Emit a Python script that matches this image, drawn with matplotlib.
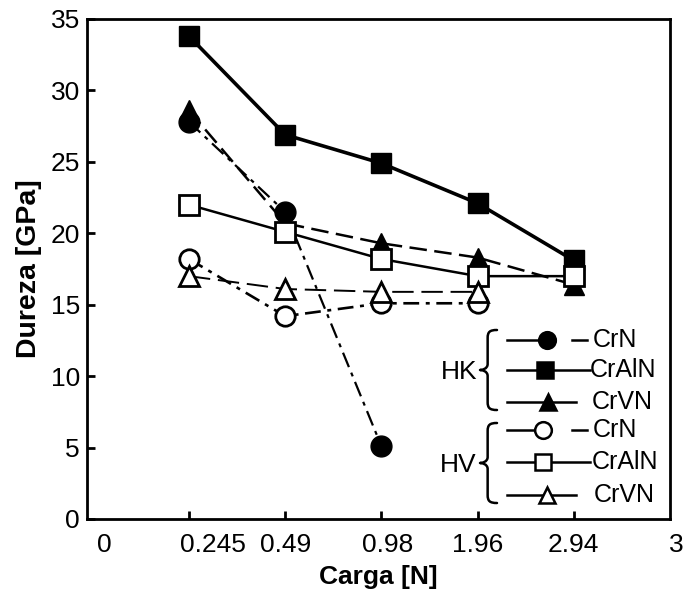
import matplotlib
matplotlib.use("Agg")
import matplotlib.pyplot as plt
from matplotlib.lines import Line2D
from matplotlib.path import Path
from matplotlib.patches import PathPatch
import matplotlib.transforms as mtrans

plt.rcParams['font.family'] = ['Liberation Sans', 'DejaVu Sans']

x_labels = ["0", "0.245", "0.49", "0.98", "1.96", "2.94", "3"]
x_pos = [1, 2, 3, 4, 5]

hk_crn = [27.8, 21.5, 5.1]
hk_cralN = [33.8, 26.9, 24.9, 22.1, 18.1]
hk_crvn = [28.6, 20.7, 19.3, 18.3, 16.4]
hv_crn = [18.2, 14.2, 15.1, 15.1]
hv_cralN = [22.0, 20.1, 18.2, 17.0, 17.0]
hv_crvn = [17.0, 16.1, 15.9, 15.9]

W, H = 688, 594
fig = plt.figure(figsize=(W / 100, H / 100), dpi=100)
L, R, T, B = 87, 670, 19, 519
ax = fig.add_axes([L / W, (H - B) / H, (R - L) / W, (B - T) / H])

dd_hk = (0, (7, 2.7, 1.8, 2.7))
dd_hv = (0, (6, 2.5, 1.5, 2.5))
dash_hk = (0, (7, 3))
dash_hv = (0, (11, 4))

ax.plot(x_pos[:len(hk_crn)], hk_crn, color='black', lw=1.6, linestyle=dd_hk,
        marker='o', markersize=15, markerfacecolor='black', zorder=3)
ax.plot(x_pos, hk_cralN, color='black', lw=2.6, linestyle='-',
        marker='s', markersize=14, markerfacecolor='black', zorder=3)
ax.plot(x_pos, hk_crvn, color='black', lw=1.8, linestyle=dash_hk,
        marker='^', markersize=15, markerfacecolor='black', zorder=3)
ax.plot(x_pos[:len(hv_crn)], hv_crn, color='black', lw=1.9, linestyle=dd_hv,
        marker='o', markersize=14, markerfacecolor='white', markeredgewidth=2, zorder=4)
ax.plot(x_pos, hv_cralN, color='black', lw=1.8, linestyle='-',
        marker='s', markersize=14, markerfacecolor='white', markeredgewidth=2, zorder=4)
ax.plot(x_pos[:len(hv_crvn)], hv_crvn, color='black', lw=1.4, linestyle=dash_hv,
        marker='^', markersize=15, markerfacecolor='white', markeredgewidth=2, zorder=4)

ax.set_xlim(-0.06, 6)
ax.set_ylim(0, 35)
ax.set_xticks(range(7))
ax.set_xticklabels(x_labels)
ax.set_yticks(range(0, 36, 5))
ax.tick_params(direction='in', length=6, width=2, labelsize=19)
ax.tick_params(axis='x', pad=10)
ax.tick_params(axis='y', pad=5)
for s in ax.spines.values():
    s.set_linewidth(2)
xt = ax.xaxis.get_major_ticks()
for i in (0, 6):
    xt[i].tick1line.set_visible(False)
# shift some x tick labels as in the reference
shifts = {0: 12, 1: 24, 3: 6, 6: 6}
for i, lbl in enumerate(ax.get_xticklabels()):
    if i in shifts:
        lbl.set_transform(lbl.get_transform() +
                          mtrans.ScaledTranslation(shifts[i] / 100, 0, fig.dpi_scale_trans))
ax.set_xlabel("Carga [N]", fontsize=19, fontweight='bold', labelpad=6)
ax.set_ylabel("Dureza [GPa]", fontsize=20.5, fontweight='bold', labelpad=6)


def fp(x, y):
    return (x / W, (H - y) / H)


ft = fig.transFigure
rows = [
    (340, 'o', 'black', 'dd', "CrN", 547, 593),
    (370, 's', 'black', '-', "CrAlN", 545, 590),
    (402, '^', 'black', 'dash', "CrVN", 548, 592),
    (430, 'o', 'white', 'dd', "CrN", 543, 593),
    (462, 's', 'white', '-', "CrAlN", 543, 592),
    (495, '^', 'white', 'dash', "CrVN", 547, 594),
]
for y, m, fc, ls, lab, xm, xtx in rows:
    def seg(xa, xb):
        (a, yy), (b, _) = fp(xa, y), fp(xb, y)
        fig.add_artist(Line2D([a, b], [yy, yy], transform=ft, color='black', lw=1.8))
    if ls == 'dd':
        seg(507, xm)
        seg(572, 587)
    elif ls == 'dash':
        seg(507, 576)
    else:
        seg(507, 590)
    a, yy = fp(xm, y)
    fig.add_artist(Line2D([a], [yy], transform=ft, marker=m, markersize=12,
                          markerfacecolor=fc, markeredgecolor='black',
                          markeredgewidth=1.8, color='black'))
    tx, ty = fp(xtx, y)
    fig.text(tx, ty, lab, fontsize=18, va='center', ha='left')


def brace(x_tip, x_right, y_top, y_bot):
    xm = x_tip + 0.45 * (x_right - x_tip)
    ym = (y_top + y_bot) / 2
    r = 8
    pts = [
        (x_right, y_top), (xm + 2, y_top), (xm, y_top + 2), (xm, y_top + r),
        (xm, ym - 6),
        (xm, ym - 1), (x_tip + 2, ym), (x_tip, ym),
        (x_tip + 2, ym), (xm, ym + 1), (xm, ym + 6),
        (xm, y_bot - r),
        (xm, y_bot - 2), (xm + 2, y_bot), (x_right, y_bot),
    ]
    codes = [Path.MOVETO, Path.CURVE4, Path.CURVE4, Path.CURVE4,
             Path.LINETO,
             Path.CURVE4, Path.CURVE4, Path.CURVE4,
             Path.CURVE4, Path.CURVE4, Path.CURVE4,
             Path.LINETO,
             Path.CURVE4, Path.CURVE4, Path.CURVE4]
    p = Path([fp(*q) for q in pts], codes)
    fig.add_artist(PathPatch(p, transform=ft, facecolor='none', edgecolor='black',
                             lw=1.8, capstyle='round', joinstyle='round'))


for label, y_top, y_bot in [("HK", 330, 410), ("HV", 423, 503)]:
    ym = (y_top + y_bot) / 2
    tx, ty = fp(477, ym + 2)
    fig.text(tx, ty, label, fontsize=19, va='center', ha='right')
    brace(480, 497, y_top, y_bot)

fig.savefig("out.png", dpi=100)
